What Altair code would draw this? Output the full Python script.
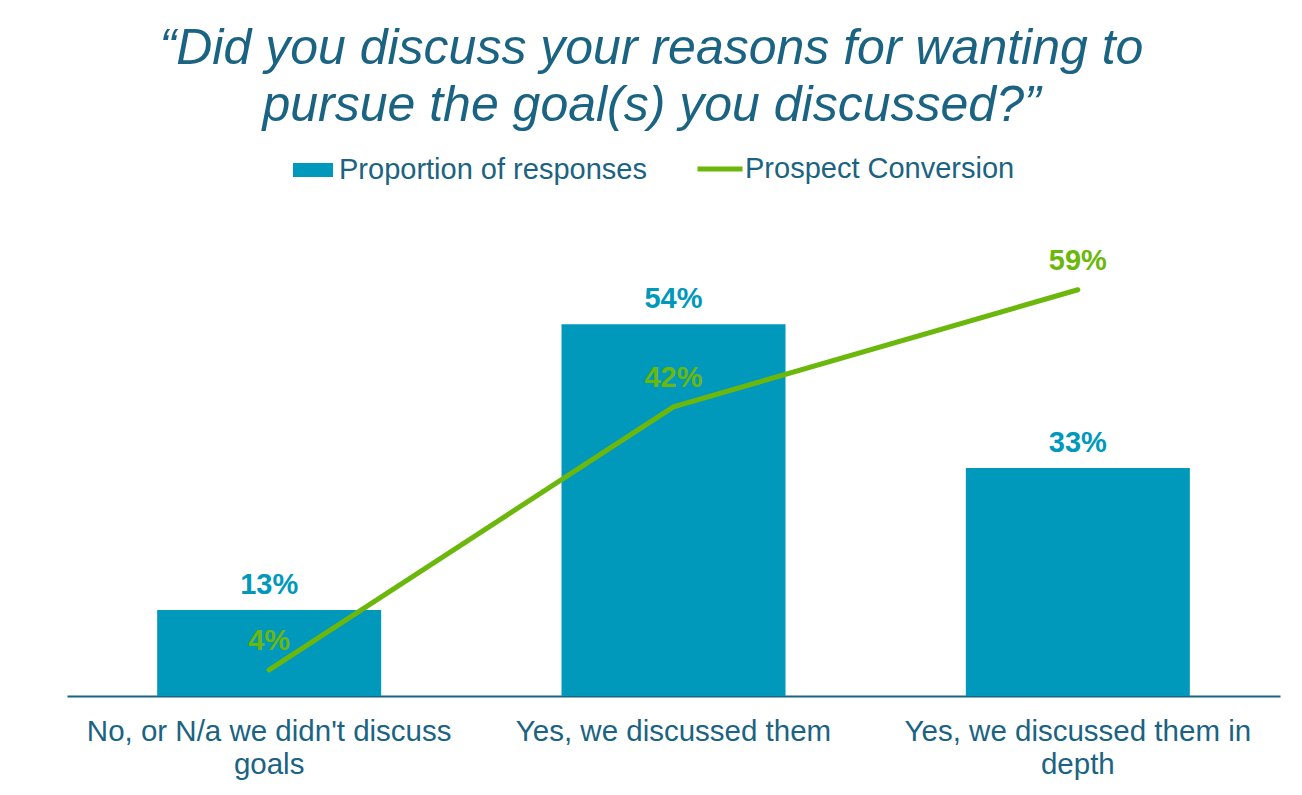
import altair as alt
import pandas as pd

# ---- data ----
categories = [
    "No, or N/a we didn't discuss|goals",
    "Yes, we discussed them",
    "Yes, we discussed them in|depth",
]
proportion = [0.125, 0.54, 0.331]   # Proportion of responses
conversion = [0.038, 0.42, 0.59]    # Prospect Conversion
title_lines = [
    "\u201cDid you discuss your reasons for wanting to",
    "pursue the goal(s) you discussed?\u201d",
]
bar_series = "Proportion of responses"
line_series = "Prospect Conversion"

TEXT = "#1B6382"
BAR = "#0099BB"
GREEN = "#6CB70B"
FONT = "Liberation Sans"

df = pd.DataFrame({
    "category": categories,
    "proportion": proportion,
    "conversion": conversion,
    "bar_series": [bar_series] * len(categories),
    "line_series": [line_series] * len(categories),
})

x_enc = alt.X(
    "category:N",
    sort=categories,
    scale=alt.Scale(paddingInner=0.446, paddingOuter=0.223),
    axis=alt.Axis(
        title=None,
        labelAngle=0,
        labelExpr="split(datum.label, '|')",
        labelFontSize=29.5,
        labelFont=FONT,
        labelColor=TEXT,
        labelLineHeight=33,
        labelLimit=600,
        labelPadding=21,
        ticks=False,
        domainColor=TEXT,
        domainWidth=2,
        grid=False,
    ),
)
y_scale = alt.Scale(domain=[0, 0.7])

base = alt.Chart(df)

bars = base.mark_bar().encode(
    x=x_enc,
    y=alt.Y("proportion:Q", scale=y_scale, axis=None),
    fill=alt.Fill(
        "bar_series:N",
        scale=alt.Scale(domain=[bar_series], range=[BAR]),
        legend=alt.Legend(
            title=None,
            orient="none",
            legendX=226,
            legendY=-64,
            symbolType="M-1,-0.35H1V0.35H-1Z",
            symbolSize=1600,
            symbolStrokeWidth=0,
            labelFontSize=29,
            labelFont=FONT,
            labelColor=TEXT,
            labelOffset=6,
            labelLimit=600,
            padding=0,
        ),
    ),
)

line = base.mark_line(strokeWidth=5, strokeCap="round").encode(
    x=x_enc,
    y=alt.Y("conversion:Q", scale=y_scale, axis=None),
    stroke=alt.Stroke(
        "line_series:N",
        scale=alt.Scale(domain=[line_series], range=[GREEN]),
        legend=alt.Legend(
            title=None,
            orient="none",
            legendX=628,
            legendY=-70,
            symbolType="stroke",
            symbolSize=2025,
            symbolStrokeWidth=5,
            labelFontSize=29,
            labelFont=FONT,
            labelColor=TEXT,
            labelOffset=0,
            labelLimit=600,
            padding=0,
        ),
    ),
)

bar_labels = base.mark_text(
    fontSize=29, fontWeight="bold", font=FONT, color=BAR, dy=-16, baseline="alphabetic"
).encode(
    x=x_enc,
    y=alt.Y("proportion:Q", scale=y_scale, axis=None),
    text=alt.Text("proportion:Q", format=".0%"),
)

line_labels = base.mark_text(
    fontSize=29, fontWeight="bold", font=FONT, color=GREEN, dy=-20, baseline="alphabetic"
).encode(
    x=x_enc,
    y=alt.Y("conversion:Q", scale=y_scale, axis=None),
    text=alt.Text("conversion:Q", format=".0%"),
)

chart = (
    alt.layer(bars, line, bar_labels, line_labels)
    .properties(
        width=1213,
        height=482,
        autosize=alt.AutoSizeParams(type="none"),
        padding={"left": 59, "top": 206, "right": 14, "bottom": 85},
        title=alt.TitleParams(
            text=title_lines,
            fontSize=50,
            font=FONT,
            fontStyle="italic",
            fontWeight="normal",
            color=TEXT,
            lineHeight=57,
            anchor="middle",
            dx=-22,
            offset=13,
        ),
    )
    .configure(font=FONT)
    .configure_view(strokeWidth=0, stroke="transparent")
)

chart.save("out.html", embed_options={"renderer": "svg", "actions": False})
